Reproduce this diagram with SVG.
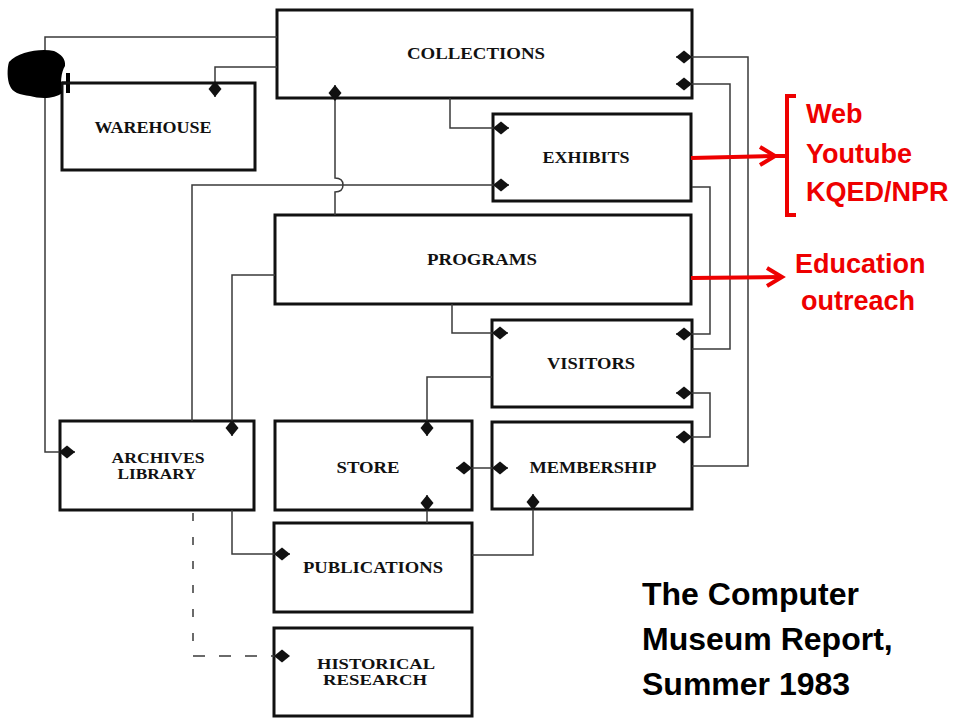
<svg xmlns="http://www.w3.org/2000/svg" width="960" height="720" viewBox="0 0 960 720">
<style>
.box{fill:#fff;stroke:#111;stroke-width:3}
.lbl{font-family:"Liberation Serif","Times New Roman",serif;font-weight:bold;font-size:16px;fill:#111;text-anchor:middle}
.lbl2{font-size:14px}
.con{fill:none;stroke:#3a3a3a;stroke-width:1.5}
.red{fill:none;stroke:#ee0000;stroke-width:4}
.rtxt{font-family:"Liberation Sans",Arial,sans-serif;font-weight:bold;font-size:27px;fill:#ee0000}
.btxt{font-family:"Liberation Sans",Arial,sans-serif;font-weight:bold;font-size:32px;fill:#000}
</style>
<defs>
<marker id="dia" markerUnits="userSpaceOnUse" markerWidth="18" markerHeight="16" viewBox="0 -8 18 16" refX="16" refY="0" orient="auto-start-reverse">
<path d="M0,0 L8,-6.5 L16,0 L8,6.5 Z" fill="#111"/>
</marker>
</defs>
<rect width="960" height="720" fill="#fff"/>

<g id="collections"><rect class="box" x="277" y="10" width="415" height="88"/><text class="lbl" x="476" y="59" textLength="138" lengthAdjust="spacingAndGlyphs">COLLECTIONS</text></g>
<g id="warehouse"><rect class="box" x="62" y="83" width="193" height="87"/><text class="lbl" x="153" y="133" textLength="117" lengthAdjust="spacingAndGlyphs">WAREHOUSE</text></g>
<g id="exhibits"><rect class="box" x="493" y="114" width="198" height="87"/><text class="lbl" x="586" y="163" textLength="87" lengthAdjust="spacingAndGlyphs">EXHIBITS</text></g>
<g id="programs"><rect class="box" x="275" y="215" width="416" height="89"/><text class="lbl" x="482" y="265" textLength="110" lengthAdjust="spacingAndGlyphs">PROGRAMS</text></g>
<g id="visitors"><rect class="box" x="492" y="320" width="200" height="87"/><text class="lbl" x="591" y="369" textLength="88" lengthAdjust="spacingAndGlyphs">VISITORS</text></g>
<g id="archives"><rect class="box" x="60" y="421" width="194" height="89"/><text class="lbl lbl2" x="158" y="463" textLength="93" lengthAdjust="spacingAndGlyphs">ARCHIVES</text><text class="lbl lbl2" x="157" y="479" textLength="79" lengthAdjust="spacingAndGlyphs">LIBRARY</text></g>
<g id="store"><rect class="box" x="275" y="421" width="197" height="89"/><text class="lbl" x="368" y="473" textLength="63" lengthAdjust="spacingAndGlyphs">STORE</text></g>
<g id="membership"><rect class="box" x="492" y="422" width="200" height="87"/><text class="lbl" x="593" y="473" textLength="127" lengthAdjust="spacingAndGlyphs">MEMBERSHIP</text></g>
<g id="publications"><rect class="box" x="274" y="523" width="198" height="89"/><text class="lbl" x="373" y="573" textLength="140" lengthAdjust="spacingAndGlyphs">PUBLICATIONS</text></g>
<g id="historical"><rect class="box" x="274" y="628" width="198" height="88"/><text class="lbl lbl2" x="376" y="669" textLength="118" lengthAdjust="spacingAndGlyphs">HISTORICAL</text><text class="lbl lbl2" x="375" y="685" textLength="104" lengthAdjust="spacingAndGlyphs">RESEARCH</text></g>

<g id="connectors">
<path class="con" d="M277,37 H45 V452 H75" marker-end="url(#dia)"/>
<path class="con" d="M277,67 H215 V97" marker-end="url(#dia)"/>
<path class="con" d="M335,215 V192 q8,0 8,-7 q0,-7 -8,-7 V85" marker-end="url(#dia)"/>
<path class="con" d="M450,98 V128 H509" marker-end="url(#dia)"/>
<path class="con" d="M192,421 V185 H509" marker-end="url(#dia)"/>
<path class="con" d="M692,466 H748 V57 H676" marker-end="url(#dia)"/>
<path class="con" d="M692,349 H730 V84 H676" marker-end="url(#dia)"/>
<path class="con" d="M692,187 H710 V334 H676" marker-end="url(#dia)"/>
<path class="con" d="M676,393 H710 V437 H676" marker-start="url(#dia)" marker-end="url(#dia)"/>
<path class="con" d="M452,304 V333 H508" marker-end="url(#dia)"/>
<path class="con" d="M492,377 H427 V436" marker-end="url(#dia)"/>
<path class="con" d="M275,275 H232 V436" marker-end="url(#dia)"/>
<path class="con" d="M456,468 H508" marker-start="url(#dia)" marker-end="url(#dia)"/>
<path class="con" d="M427,523 V495" marker-end="url(#dia)"/>
<path class="con" d="M472,555 H533 V494" marker-end="url(#dia)"/>
<path class="con" d="M232,510 V554 H290" marker-end="url(#dia)"/>
<path class="con" d="M193,513 V656" stroke-width="3" stroke-dasharray="8 16"/>
<path class="con" d="M193,656 H290" stroke-dasharray="12 14" marker-end="url(#dia)"/>
</g>

<g id="blob">
<path d="M9,62 C18,52 40,48 54,51 C61,54 66,59 65,66 C61,72 60,84 62,93 C55,99 40,99 30,96 C20,95 12,92 10,86 C7,80 7,68 9,62 Z" fill="#000"/>
<rect x="66" y="73" width="4" height="20" fill="#000"/>
<path d="M62,83 H70" stroke="#111" stroke-width="3"/>
</g>

<g id="web-annotation">
<path class="red" d="M691,158 L774,156 H787"/>
<path class="red" d="M760,147 L775,156 L760,165"/>
<path class="red" d="M796,96 H787 V215 H796"/>
<text class="rtxt" x="806" y="123">Web</text>
<text class="rtxt" x="806" y="163">Youtube</text>
<text class="rtxt" x="806" y="201">KQED/NPR</text>
</g>
<g id="education-annotation">
<path class="red" d="M691,278 L781,277"/>
<path class="red" d="M767,268 L782,277 L767,286"/>
<text class="rtxt" x="795" y="273">Education</text>
<text class="rtxt" x="801" y="310">outreach</text>
</g>
<g id="caption">
<text class="btxt" x="642" y="605">The Computer</text>
<text class="btxt" x="642" y="650">Museum Report,</text>
<text class="btxt" x="642" y="695">Summer 1983</text>
</g>
</svg>
